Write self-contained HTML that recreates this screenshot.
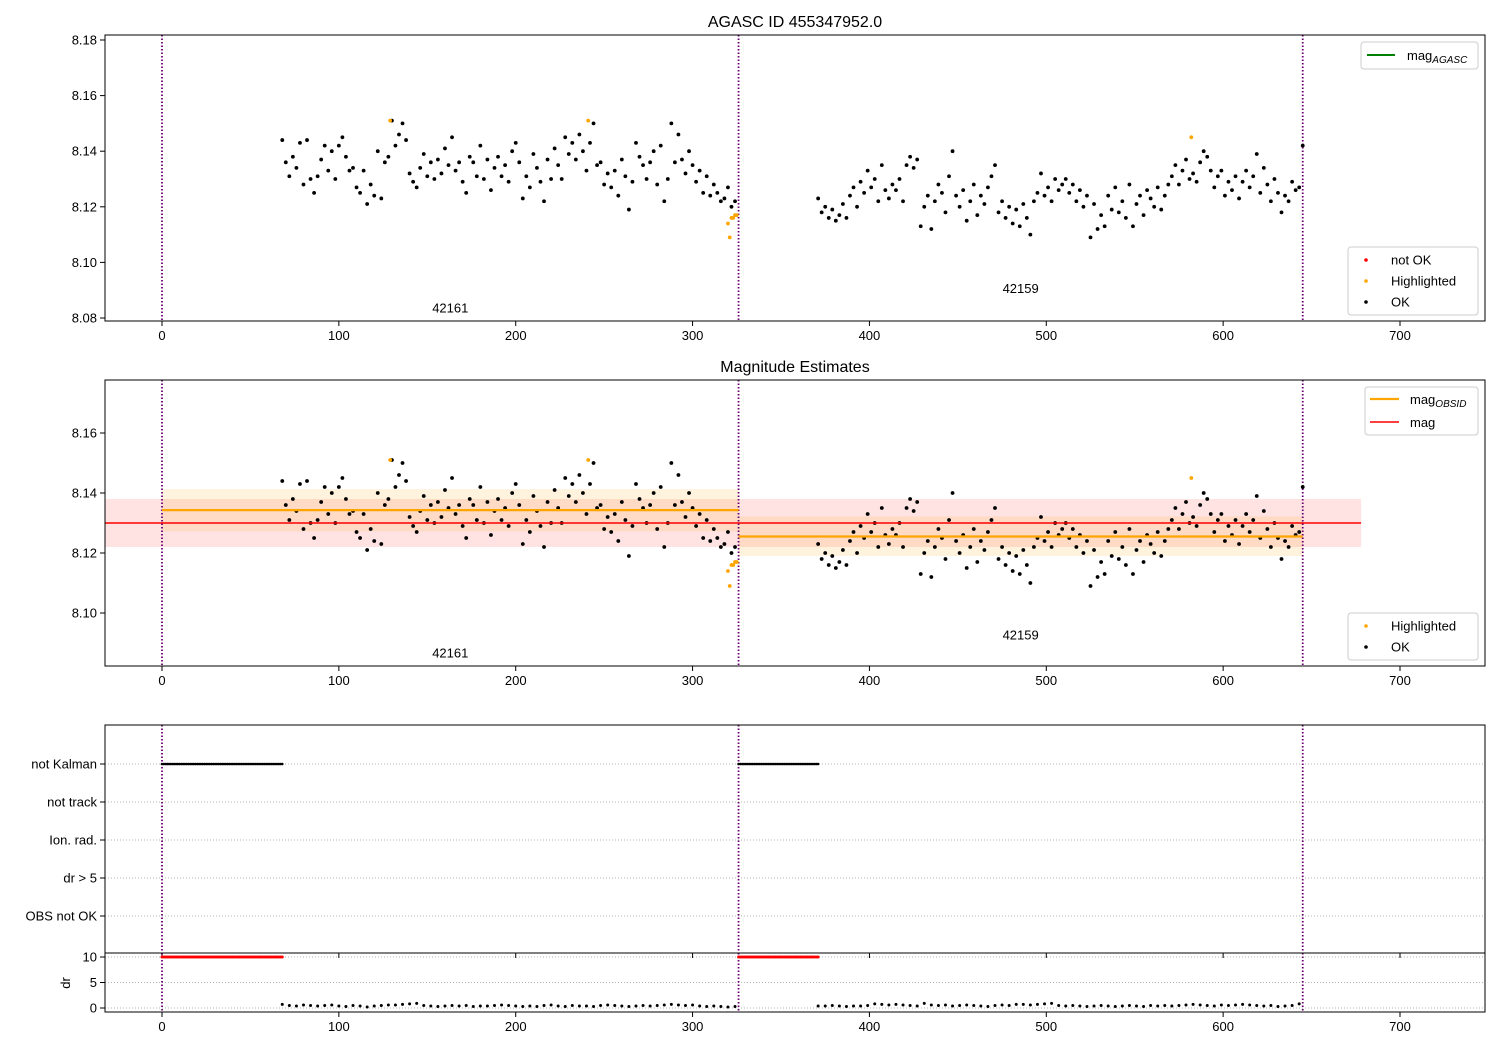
<!DOCTYPE html>
<html><head><meta charset="utf-8">
<style>
html,body{margin:0;padding:0;background:#fff;}
svg{display:block;font-family:"Liberation Sans","DejaVu Sans",sans-serif;}
</style></head>
<body>
<svg id="chart" width="1500" height="1050" viewBox="0 0 1500 1050" xmlns="http://www.w3.org/2000/svg"></svg>
<script>
// ---- data ----
const segAStart = 68, segAStep = 2;
const segA = [8.144,8.136,8.131,8.138,8.134,8.143,8.128,8.144,8.130,8.125,
8.131,8.137,8.142,8.133,8.140,8.130,8.142,8.145,8.138,8.133,
8.134,8.127,8.125,8.133,8.121,8.128,8.124,8.140,8.123,8.136,
8.138,8.151,8.142,8.146,8.150,8.144,8.132,8.129,8.127,8.134,
8.139,8.131,8.136,8.130,8.137,8.132,8.141,8.135,8.145,8.133,
8.136,8.129,8.125,8.138,8.136,8.131,8.142,8.130,8.137,8.126,
8.134,8.138,8.131,8.135,8.129,8.140,8.143,8.136,8.123,8.131,
8.127,8.139,8.134,8.129,8.122,8.137,8.130,8.141,8.135,8.130,
8.145,8.139,8.143,8.137,8.146,8.140,8.133,8.143,8.150,8.135,
8.136,8.128,8.132,8.127,8.133,8.124,8.137,8.131,8.119,8.129,
8.143,8.138,8.135,8.130,8.136,8.140,8.128,8.142,8.122,8.130,
8.150,8.136,8.146,8.137,8.132,8.140,8.135,8.129,8.133,8.125,
8.131,8.124,8.128,8.125,8.122,8.123,8.127,8.120,8.122];
const segBStart = 371, segBStep = 2;
const segB = [8.123,8.118,8.120,8.116,8.119,8.115,8.117,8.121,8.116,8.124,
8.127,8.120,8.129,8.125,8.133,8.127,8.130,8.122,8.135,8.126,
8.123,8.128,8.126,8.130,8.122,8.135,8.138,8.134,8.137,8.113,
8.120,8.124,8.112,8.122,8.128,8.125,8.118,8.131,8.140,8.124,
8.120,8.126,8.115,8.122,8.128,8.117,8.124,8.121,8.127,8.131,
8.135,8.118,8.122,8.116,8.120,8.114,8.119,8.113,8.121,8.116,
8.110,8.122,8.125,8.132,8.124,8.127,8.122,8.130,8.126,8.128,
8.130,8.125,8.128,8.122,8.126,8.120,8.124,8.109,8.121,8.112,
8.117,8.113,8.124,8.119,8.127,8.118,8.122,8.116,8.128,8.113,
8.121,8.124,8.117,8.126,8.123,8.120,8.127,8.119,8.124,8.128,
8.131,8.135,8.128,8.133,8.137,8.130,8.132,8.129,8.136,8.140,
8.138,8.133,8.127,8.131,8.133,8.124,8.129,8.126,8.131,8.123,
8.129,8.133,8.127,8.131,8.139,8.125,8.134,8.128,8.122,8.130,
8.125,8.118,8.124,8.122,8.129,8.126,8.127,8.142];
const highX = [129,241,320,321,322,323,324,325,582];
const highY = [8.151,8.151,8.114,8.109,8.116,8.116,8.117,8.117,8.145];
const obsBounds = [0,326,645];
const obsIds = ["42161","42159"];
const obsLabelY1 = [8.0835,8.0905];
const obsLabelY2 = [8.0865,8.0925];
const obsMag = [8.1343,8.1255];
const obsLo = [8.1272,8.1190];
const obsHi = [8.1413,8.1322];
const magMean = 8.130, magLo = 8.122, magHi = 8.138, magBandEnd = 678;
const kalmanRanges = [[0,68],[326,371]];
const drA = [0.7,0.5,0.4,0.6,0.5,0.4,0.5,0.6,0.4,0.3,0.5,0.4,0.2,0.4,0.5,0.6,0.6,0.7,0.8,0.9,0.5,0.4,0.3,0.4,0.5,0.4,0.5,0.3,0.4,0.4,0.5,0.6,0.5,0.4,0.3,0.4,0.3,0.5,0.6,0.4,0.3,0.5,0.4,0.4,0.3,0.5,0.6,0.5,0.4,0.3,0.4,0.5,0.4,0.5,0.6,0.7,0.6,0.5,0.6,0.4,0.3,0.4,0.3,0.2,0.3];
const drB = [0.4,0.4,0.5,0.4,0.3,0.4,0.4,0.5,0.8,0.7,0.6,0.7,0.6,0.5,0.4,0.9,0.6,0.5,0.6,0.4,0.5,0.6,0.5,0.4,0.3,0.5,0.6,0.5,0.7,0.7,0.6,0.7,0.8,0.9,0.5,0.4,0.5,0.4,0.3,0.4,0.5,0.4,0.3,0.4,0.5,0.4,0.3,0.5,0.4,0.5,0.4,0.5,0.6,0.7,0.6,0.5,0.4,0.6,0.5,0.6,0.7,0.6,0.5,0.4,0.5,0.3,0.4,0.5,0.8];
const xTicks = [0,100,200,300,400,500,600,700];
const y1Ticks = [8.08,8.10,8.12,8.14,8.16,8.18];
const y2Ticks = [8.10,8.12,8.14,8.16];
const flagCats = ["not Kalman","not track","Ion. rad.","dr > 5","OBS not OK"];
const drTicks = [0,5,10];

// ---- helpers ----
const svg = document.getElementById('chart');
const NS = 'http://www.w3.org/2000/svg';
function mk(tag, attrs, parent){const e=document.createElementNS(NS,tag);for(const k in attrs)e.setAttribute(k,attrs[k]);(parent||svg).appendChild(e);return e;}
const L=105,R=1485;
const X = v => 162 + v*(1238/700);
const Y1 = v => 40 + (8.18-v)*2780;
const Y2 = v => 433 + (8.16-v)*3000;
const catY = i => 764 + i*38;
const YD = v => 1008 - v*5.1;

function axesBox(top,bottom,name){
  const r=mk('rect',{x:L,y:top,width:R-L,height:bottom-top,fill:'none',stroke:'#000','stroke-width':1});
  
  
}
function xAxis(bottom,labels,name){
  const g=mk('g',{});
  
  
  xTicks.forEach(t=>{
    mk('line',{x1:X(t),x2:X(t),y1:bottom,y2:bottom+5,stroke:'#000'},g);
    if(labels){const tx=mk('text',{x:X(t),y:bottom+19,'font-size':13,'text-anchor':'middle'},g);tx.textContent=t;}
  });
}
function yAxis(ticks,fy,name,fmt){
  const g=mk('g',{});
  
  
  ticks.forEach(t=>{
    mk('line',{x1:L-5,x2:L,y1:fy(t),y2:fy(t),stroke:'#000'},g);
    const tx=mk('text',{x:L-8,y:fy(t)+4.5,'font-size':13,'text-anchor':'end'},g);tx.textContent=fmt(t);
  });
}
function vlines(top,bottom){
  obsBounds.forEach(b=>{
    const l=mk('line',{x1:X(b),x2:X(b),y1:top,y2:bottom,stroke:'#6a0070','stroke-width':1.8,'stroke-dasharray':'1.5,2'});
    
    
  });
}
function dots(xs,ys,fy,color,r,name){
  const g=mk('g',{fill:color});
  
  
  for(let i=0;i<xs.length;i++) mk('circle',{cx:X(xs[i]),cy:fy(ys[i]),r:r},g);
}
function seg(start,step,arr){const xs=[];for(let i=0;i<arr.length;i++)xs.push(start+i*step);return xs;}
function text(x,y,s,size,anchor,name){const t=mk('text',{x:x,y:y,'font-size':size,'text-anchor':anchor||'middle'});t.textContent=s;return t;}

const okX = seg(segAStart,segAStep,segA).concat(seg(segBStart,segBStep,segB));
const okY = segA.concat(segB);

// ---- panel 1 ----
text(795,27,'AGASC ID 455347952.0',16,'middle','title-agasc');
xAxis(321,true,'x-axis-1');
yAxis(y1Ticks,Y1,'y-axis-1',t=>t.toFixed(2));
vlines(35,321);
dots(okX,okY,Y1,'#000',1.9,'ok-points-1');
dots(highX,highY,Y1,'orange',1.9,'highlighted-points-1');
obsIds.forEach((id,i)=>text(X((obsBounds[i]+obsBounds[i+1])/2),Y1(obsLabelY1[i])+4,id,13,'middle','obsid-label-1'));
axesBox(35,321,'axes-1');

// ---- panel 2 ----
text(795,372,'Magnitude Estimates',16,'middle','title-estimates');
{
  const b=mk('rect',{x:L,y:Y2(magHi),width:X(magBandEnd)-L,height:Y2(magLo)-Y2(magHi),fill:'red','fill-opacity':0.11});
  
  for(let i=0;i<obsMag.length;i++){
    const bb=mk('rect',{x:X(obsBounds[i]),y:Y2(obsHi[i]),width:X(obsBounds[i+1])-X(obsBounds[i]),height:Y2(obsLo[i])-Y2(obsHi[i]),fill:'orange','fill-opacity':0.13});
    
  }
}
xAxis(666,true,'x-axis-2');
yAxis(y2Ticks,Y2,'y-axis-2',t=>t.toFixed(2));
vlines(380,666);
dots(okX,okY,Y2,'#000',1.9,'ok-points-2');
dots(highX,highY,Y2,'orange',1.9,'highlighted-points-2');
for(let i=0;i<obsMag.length;i++){
  const l=mk('line',{x1:X(obsBounds[i]),x2:X(obsBounds[i+1]),y1:Y2(obsMag[i]),y2:Y2(obsMag[i]),stroke:'orange','stroke-width':2.2});
  
}
{const l=mk('line',{x1:L,x2:X(magBandEnd),y1:Y2(magMean),y2:Y2(magMean),stroke:'red','stroke-width':1.6});
}
obsIds.forEach((id,i)=>text(X((obsBounds[i]+obsBounds[i+1])/2),Y2(obsLabelY2[i])+4,id,13,'middle','obsid-label-2'));
axesBox(380,666,'axes-2');

// ---- panel 3 flags ----
flagCats.forEach((c,i)=>{
  const l=mk('line',{x1:L,x2:R,y1:catY(i),y2:catY(i),stroke:'#b0b0b0','stroke-dasharray':'1,2'});
  
  mk('line',{x1:L-5,x2:L,y1:catY(i),y2:catY(i),stroke:'#000'});
  text(L-8,catY(i)+4.5,c,13,'end','flag-label');
});
vlines(725,953);
kalmanRanges.forEach(rg=>{
  const xs=[],ys=[];for(let v=rg[0];v<=rg[1];v++){xs.push(v);ys.push(0);}
  dots(xs,ys,()=>catY(0),'#000',1.3,'not-kalman-points');
});
xAxis(953,false,'x-axis-3');
axesBox(725,953,'axes-3');

// ---- panel 4 dr ----
drTicks.forEach(t=>{
  const l=mk('line',{x1:L,x2:R,y1:YD(t),y2:YD(t),stroke:'#b0b0b0','stroke-dasharray':'1,2'});
  
});
yAxis(drTicks,YD,'y-axis-dr',t=>t);
{const t=mk('text',{x:70,y:983,'font-size':13,'text-anchor':'middle',transform:'rotate(-90 70 983)'});t.textContent='dr';}
vlines(953,1012);
kalmanRanges.forEach(rg=>{
  const xs=[],ys=[];for(let v=rg[0];v<=rg[1];v++){xs.push(v);ys.push(10);}
  dots(xs,ys,YD,'red',1.5,'dr-clipped-points');
});
dots(seg(68,4,drA),drA,YD,'#000',1.5,'dr-points-a');
dots(seg(371,4,drB),drB,YD,'#000',1.5,'dr-points-b');
xAxis(1012,true,'x-axis-dr');
axesBox(953,1012,'axes-dr');

// ---- legends ----
function legendBox(x,y,w,h,name){const r=mk('rect',{x:x,y:y,width:w,height:h,rx:3,fill:'#fff','fill-opacity':0.8,stroke:'#ccc'});}
function subLabel(x,y,main,sub,name){const t=mk('text',{x:x,y:y,'font-size':13});t.textContent=main;const s=mk('tspan',{'font-size':10,'font-style':'italic',dy:3},t);s.textContent=sub;}
legendBox(1361,42,117,27,'legend-agasc');
mk('line',{x1:1367,x2:1395,y1:55,y2:55,stroke:'green','stroke-width':2});
subLabel(1407,60,'mag','AGASC','legend-entry-mag-agasc');
function pointLegend(x,y,items,name){
  legendBox(x,y,130,items.length*21+5,name);
  items.forEach((it,i)=>{
    const cy=y+13+i*21;
    mk('circle',{cx:x+18,cy:cy,r:1.8,fill:it[1]});
    text(x+43,cy+4.5,it[0],13,'start','legend-entry');
  });
}
pointLegend(1348,247,[['not OK','red'],['Highlighted','orange'],['OK','#000']],'legend-status-1');
legendBox(1365,387,113,48,'legend-mag');
mk('line',{x1:1370,x2:1399,y1:399,y2:399,stroke:'orange','stroke-width':2.2});
subLabel(1410,404,'mag','OBSID','legend-entry-mag-obsid');
mk('line',{x1:1370,x2:1399,y1:422,y2:422,stroke:'red','stroke-width':1.6});
text(1410,427,'mag',13,'start','legend-entry-mag');
pointLegend(1348,613,[['Highlighted','orange'],['OK','#000']],'legend-status-2');
</script>
</body></html>
